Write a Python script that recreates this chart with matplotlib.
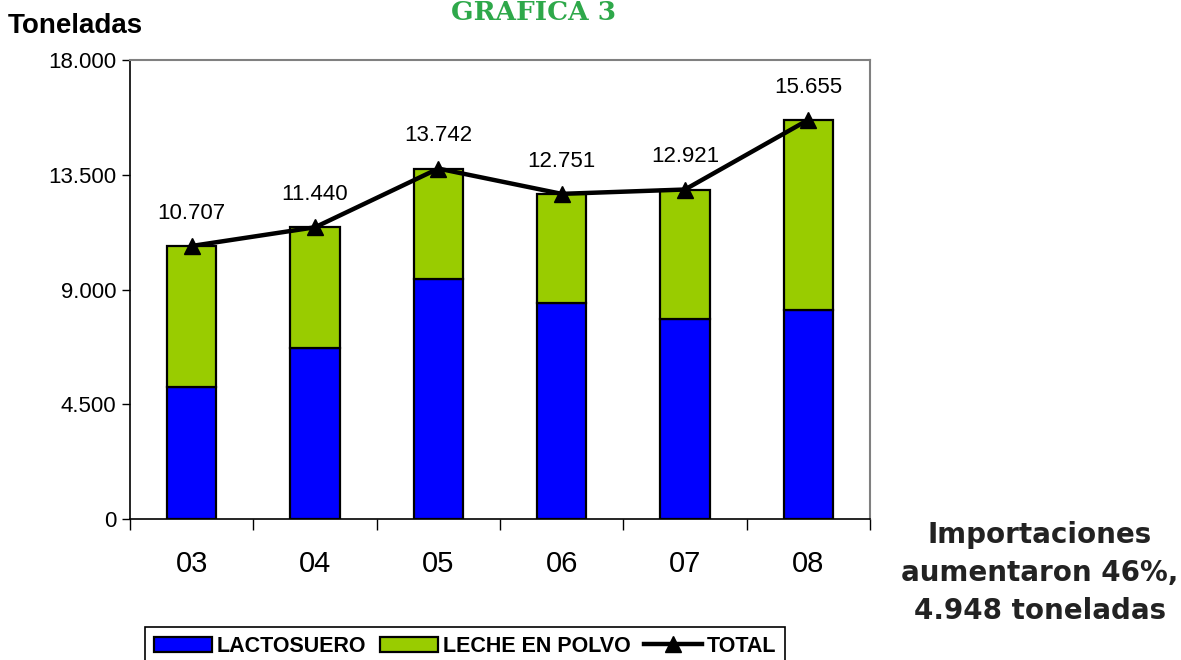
import matplotlib
matplotlib.use("Agg")
import matplotlib.pyplot as plt
from matplotlib.ticker import FixedLocator
from matplotlib.patches import Patch
from matplotlib.lines import Line2D

years = ["03", "04", "05", "06", "07", "08"]
lactosuero = [5190, 6720, 9425, 8460, 7830, 8200]
total = [10707, 11440, 13742, 12751, 12921, 15655]
leche = [t - l for t, l in zip(total, lactosuero)]
total_labels = ["10.707", "11.440", "13.742", "12.751", "12.921", "15.655"]
yticks = [0, 4500, 9000, 13500, 18000]
ytick_labels = ["0", "4.500", "9.000", "13.500", "18.000"]

plt.rcParams['font.family'] = ['Liberation Sans', 'DejaVu Sans']

W, H = 1181, 660
fig = plt.figure(figsize=(W / 100, H / 100), dpi=100)
ax = fig.add_axes([130 / W, 1 - 519 / H, 740 / W, 459 / H])

x = list(range(len(years)))
bw = 0.40
ax.bar(x, lactosuero, bw, color="#0000FF", edgecolor="black", linewidth=1.6, zorder=2)
ax.bar(x, leche, bw, bottom=lactosuero, color="#99CC00", edgecolor="black", linewidth=1.6, zorder=2)
ax.plot(x, total, color="black", linewidth=3.2, marker="^", markersize=11, zorder=3)

for xi, t, lab in zip(x, total, total_labels):
    ax.annotate(lab, (xi, t), xytext=(0, 16), textcoords="offset points",
                ha="center", va="bottom", fontsize=16)

ax.set_xlim(-0.5, len(years) - 0.5)
ax.set_ylim(0, 18000)
ax.yaxis.set_major_locator(FixedLocator(yticks))
ax.set_yticklabels(ytick_labels, fontsize=16)
ax.tick_params(axis="y", direction="out", length=6, width=1, pad=4)

ax.set_xticks(x)
ax.set_xticklabels(years, fontsize=21)
ax.tick_params(axis="x", which="major", length=0, pad=22)
ax.set_xticks([i - 0.5 for i in range(len(years) + 1)], minor=True)
ax.tick_params(axis="x", which="minor", direction="out", length=8, width=1)

for s in ("top", "right"):
    ax.spines[s].set_color("#808080")
    ax.spines[s].set_linewidth(1.5)
for s in ("left", "bottom"):
    ax.spines[s].set_color("black")
    ax.spines[s].set_linewidth(1.2)

fig.text(8 / W, 1 - 26 / H, "Toneladas", fontsize=20, fontweight="bold", va="center", ha="left")
fig.text(534 / W, 1 - 13 / H, "GRAFICA 3", fontsize=19, fontweight="heavy",
         color="#2EA84A", family="DejaVu Serif", va="center", ha="center")

fig.text(1040 / W, 1 - 573 / H, "Importaciones\naumentaron 46%,\n4.948 toneladas",
         fontsize=20, fontweight="bold", color="#222222", ha="center", va="center",
         linespacing=1.45, family="DejaVu Sans")

handles = [
    Patch(facecolor="#0000FF", edgecolor="black", linewidth=1.6),
    Patch(facecolor="#99CC00", edgecolor="black", linewidth=1.6),
    Line2D([0], [0], color="black", linewidth=3.2, marker="^", markersize=11),
]
leg = fig.legend(handles, ["LACTOSUERO", "LECHE EN POLVO", "TOTAL"], ncol=3,
                 loc="upper left", bbox_to_anchor=(145 / W, 1 - 627 / H),
                 frameon=True, fancybox=False, edgecolor="black", framealpha=1,
                 prop={"weight": "bold", "size": 15.5}, handlelength=2.7,
                 handletextpad=0.25, columnspacing=0.6, borderpad=0.4,
                 borderaxespad=0)
leg.get_frame().set_linewidth(1.2)

fig.savefig("out.png", dpi=100)
